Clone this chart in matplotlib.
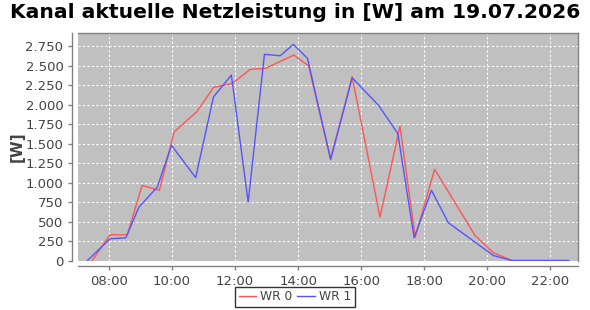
import matplotlib
matplotlib.use("Agg")
import matplotlib.pyplot as plt
import matplotlib.dates as mdates
import matplotlib.ticker as mticker
from datetime import datetime

DAY = "2026-07-19"
wr0_times = ["07:28", "08:02", "08:35", "09:03", "09:36", "10:04", "10:47", "11:19",
             "11:55", "12:29", "12:58", "13:52", "14:20", "15:02", "15:43", "16:36",
             "17:14", "17:43", "18:20", "19:37", "20:12", "20:47", "22:35"]
wr0_values = [0, 330, 330, 964, 900, 1650, 1906, 2220, 2272, 2452, 2464, 2635, 2497,
              1307, 2356, 557, 1722, 300, 1170, 321, 99, 0, 0]
wr1_times = ["07:19", "08:02", "08:32", "08:57", "09:32", "09:59", "10:45", "11:19",
             "11:53", "12:25", "12:56", "13:26", "13:51", "14:18", "15:02", "15:43",
             "16:33", "17:10", "17:41", "18:14", "18:46", "20:12", "20:47", "22:35"]
wr1_values = [0, 279, 290, 685, 942, 1478, 1063, 2099, 2378, 750, 2644, 2626, 2772,
              2592, 1294, 2343, 1992, 1628, 292, 900, 485, 64, 0, 0]
series_names = ["WR 0", "WR 1"]
series_colors = ["#ff5555", "#5555ff"]
title = "Kanal aktuelle Netzleistung in [W] am 19.07.2026"
ylabel = "[W]"

def to_dt(ts):
    return [datetime.strptime(f"{DAY} {t}", "%Y-%m-%d %H:%M") for t in ts]

fig = plt.figure(figsize=(5.9, 3.1), dpi=100)
ax = fig.add_axes([78/590, 1-260.5/310, 500/590, 227.5/310])
ax.set_facecolor("#c0c0c0")

l0, = ax.plot(to_dt(wr0_times), wr0_values, color=series_colors[0], lw=1.0, label=series_names[0])
l1, = ax.plot(to_dt(wr1_times), wr1_values, color=series_colors[1], lw=1.0, label=series_names[1])

ax.set_xlim(datetime.strptime(f"{DAY} 07:01", "%Y-%m-%d %H:%M"),
            datetime.strptime(f"{DAY} 22:53", "%Y-%m-%d %H:%M"))
ax.set_ylim(0, 2918)
ax.xaxis.set_major_locator(mdates.HourLocator(byhour=range(0, 24, 2)))
ax.xaxis.set_major_formatter(mdates.DateFormatter("%H:%M"))
ax.yaxis.set_major_locator(mticker.MultipleLocator(250))
ax.yaxis.set_major_formatter(mticker.FuncFormatter(lambda v, p: f"{int(v):,}".replace(",", ".")))

ax.grid(True, color="white", linestyle=(0, (2, 2)), linewidth=0.8)
ax.set_axisbelow(True)

for s in ["top", "right"]:
    ax.spines[s].set_color("#808080")
    ax.spines[s].set_linewidth(1.0)
for s in ["left", "bottom"]:
    ax.spines[s].set_color("#808080")
    ax.spines[s].set_linewidth(1.0)
    ax.spines[s].set_position(("outward", 4))

ax.tick_params(axis="both", colors="#808080", labelcolor="#444444", labelsize=9.5,
               length=3, width=1)

ax.set_ylabel(ylabel, fontsize=11, fontweight="bold", color="#444444")
ax.yaxis.set_label_coords(-0.106, 0.5)
fig.text(0.5, 1-13/310, title, ha="center", va="center", fontsize=14.6, fontweight="bold")

leg = fig.legend(handles=[l0, l1], loc="center", bbox_to_anchor=(0.5, 1-297/310), ncol=2,
                 frameon=True, fancybox=False, edgecolor="black", fontsize=8.8,
                 handlelength=1.4, handletextpad=0.35, columnspacing=0.4,
                 borderpad=0.3, borderaxespad=0)
leg.get_frame().set_linewidth(1.0)
for t in leg.get_texts():
    t.set_color("#444444")

fig.savefig("out.png", dpi=100)
